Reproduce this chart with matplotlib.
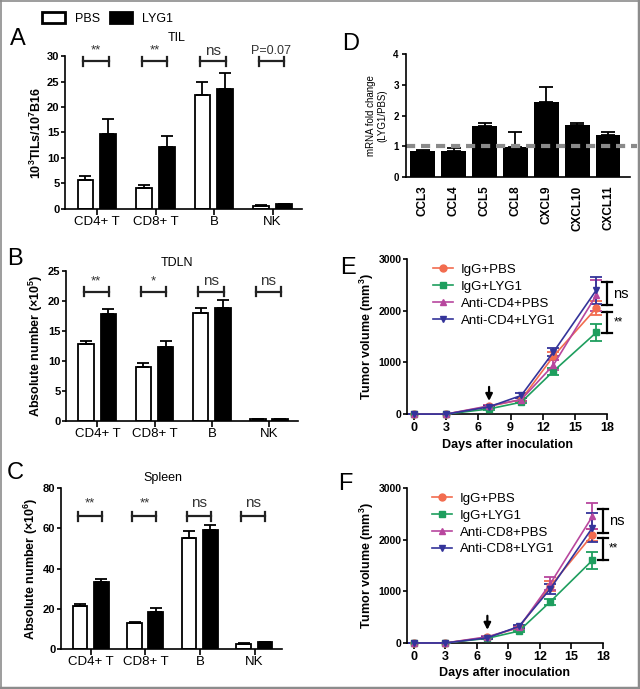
import matplotlib
matplotlib.use('Agg')
import matplotlib.pyplot as plt
import numpy as np
from matplotlib.patches import Patch
from matplotlib.lines import Line2D

plt.rcParams['font.family'] = ['Liberation Sans', 'DejaVu Sans']
plt.rcParams['mathtext.fontset'] = 'custom'
plt.rcParams['mathtext.rm'] = 'Liberation Sans'
plt.rcParams['mathtext.bf'] = 'Liberation Sans:bold'
plt.rcParams['axes.linewidth'] = 1.2
plt.rcParams['xtick.major.width'] = 1.2
plt.rcParams['ytick.major.width'] = 1.2

# ---- data ----
cells = ['CD4+ T', 'CD8+ T', 'B', 'NK']

til_pbs = [5.7, 4.2, 22.4, 0.6]
til_pbs_err = [0.8, 0.6, 2.6, 0.15]
til_lyg1 = [14.8, 12.1, 23.6, 0.9]
til_lyg1_err = [2.8, 2.3, 3.1, 0.15]
til_sig = ['**', '**', 'ns', 'P=0.07']

tdln_pbs = [12.9, 9.0, 18.0, 0.3]
tdln_pbs_err = [0.5, 0.7, 0.8, 0.05]
tdln_lyg1 = [17.8, 12.3, 18.9, 0.3]
tdln_lyg1_err = [0.9, 1.0, 1.2, 0.05]
tdln_sig = ['**', '*', 'ns', 'ns']

spl_pbs = [21.5, 12.8, 55.0, 2.5]
spl_pbs_err = [0.8, 0.4, 3.5, 0.3]
spl_lyg1 = [33.3, 18.5, 59.3, 3.3]
spl_lyg1_err = [1.7, 1.7, 2.2, 0.3]
spl_sig = ['**', '**', 'ns', 'ns']

chemokines = ['CCL3', 'CCL4', 'CCL5', 'CCL8', 'CXCL9', 'CXCL10', 'CXCL11']
fold = [0.85, 0.85, 1.65, 0.97, 2.43, 1.70, 1.38]
fold_err = [0.02, 0.08, 0.10, 0.50, 0.50, 0.05, 0.07]

days = [0, 3, 7, 10, 13, 17]
e_labels = ['IgG+PBS', 'IgG+LYG1', 'Anti-CD4+PBS', 'Anti-CD4+LYG1']
e_vals = [[0, 0, 150, 280, 1120, 2050],
          [0, 0, 100, 230, 830, 1580],
          [0, 0, 160, 280, 950, 2300],
          [0, 0, 140, 360, 1200, 2400]]
e_errs = [[5, 5, 20, 30, 80, 130],
          [5, 5, 15, 25, 70, 170],
          [5, 5, 20, 30, 100, 300],
          [5, 5, 20, 40, 80, 260]]
f_labels = ['IgG+PBS', 'IgG+LYG1', 'Anti-CD8+PBS', 'Anti-CD8+LYG1']
f_vals = [[0, 0, 110, 300, 1100, 2090],
          [0, 0, 90, 230, 800, 1600],
          [0, 0, 120, 300, 1150, 2450],
          [0, 0, 100, 320, 1050, 2230]]
f_errs = [[5, 5, 15, 30, 100, 110],
          [5, 5, 15, 25, 60, 170],
          [5, 5, 20, 30, 120, 250],
          [5, 5, 15, 30, 100, 280]]
e_brackets = [(2110, 2550, 'ns'), (1570, 1970, '**')]
f_brackets = [(2130, 2590, 'ns'), (1610, 2030, '**')]

line_colors = ['#F26C4F', '#1E9E5E', '#B8479E', '#34349A']
line_markers = ['o', 's', '^', 'v']

fig = plt.figure(figsize=(6.4, 6.89), dpi=100)


def bar_panel(rect, pbs, pbs_err, lyg, lyg_err, sig, ylim, yticks, ylabel,
              title, title_pos, br_y, br_h, txt_y):
    ax = fig.add_axes(rect)
    x = np.arange(len(cells))
    w = 0.27
    ax.bar(x - 0.2, pbs, w, color='white', edgecolor='black', lw=1.3,
           yerr=[np.zeros(4), pbs_err], capsize=4,
           error_kw=dict(lw=1.3, capthick=1.3))
    ax.bar(x + 0.19, lyg, w, color='black', edgecolor='black', lw=1.3,
           yerr=[np.zeros(4), lyg_err], capsize=4,
           error_kw=dict(lw=1.3, capthick=1.3))
    for i, s in enumerate(sig):
        x0, x1 = i - 0.24, i + 0.2
        ax.plot([x0, x1], [br_y, br_y], color='#222222', lw=1.6, clip_on=False)
        for xx in (x0, x1):
            ax.plot([xx, xx], [br_y - br_h, br_y + br_h], color='#222222',
                    lw=1.6, clip_on=False)
        fs = 11 if s == 'ns' else (9 if s.startswith('P') else 9.5)
        ax.text(i - 0.02, txt_y, s, ha='center', va='center', fontsize=fs,
                color='#333333', clip_on=False)
    ax.set_xlim(-0.55, 3.5)
    ax.set_ylim(*ylim)
    ax.set_yticks(yticks)
    ax.set_xticks(x)
    ax.set_xticklabels(cells, fontsize=9.5)
    for lab in ax.get_yticklabels():
        lab.set_fontweight('bold')
        lab.set_fontsize(8)
    ax.tick_params(axis='y', length=3, pad=1)
    ax.tick_params(axis='x', length=4, pad=1)
    ax.spines['top'].set_visible(False)
    ax.spines['right'].set_visible(False)
    ax.set_ylabel(ylabel, fontsize=9, fontweight='bold', labelpad=2)
    ax.text(title_pos[0], title_pos[1], title, transform=ax.transAxes,
            ha='center', va='center', fontsize=9)
    return ax


bar_panel([0.1016, 0.6967, 0.370, 0.222], til_pbs, til_pbs_err, til_lyg1,
          til_lyg1_err, til_sig, (0, 30), range(0, 31, 5),
          r'10$^{\mathbf{3}}$TILs/10$^{\mathbf{7}}$B16', 'TIL', (0.47, 1.118),
          29.0, 0.9, 31.0)
bar_panel([0.1031, 0.389, 0.3625, 0.2177], tdln_pbs, tdln_pbs_err, tdln_lyg1,
          tdln_lyg1_err, tdln_sig, (0, 25), range(0, 26, 5),
          r'Absolute number (×10$^{\mathbf{5}}$)', 'TDLN', (0.48, 1.053),
          21.5, 0.75, 23.3)
bar_panel([0.0953, 0.058, 0.345, 0.2337], spl_pbs, spl_pbs_err, spl_lyg1,
          spl_lyg1_err, spl_sig, (0, 80), range(0, 81, 20),
          r'Absolute number (×10$^{\mathbf{6}}$)', 'Spleen', (0.46, 1.062),
          66.0, 2.2, 72.5)

# legend for A-C
fig.legend(handles=[Patch(facecolor='white', edgecolor='black', lw=2),
                    Patch(facecolor='black', edgecolor='black', lw=2)],
           labels=['PBS', 'LYG1'], ncol=2, frameon=False, fontsize=9,
           loc='upper left', bbox_to_anchor=(42 / 640, 1 - 12 / 689),
           borderpad=0, borderaxespad=0, handlelength=1.8, handleheight=1.0,
           handletextpad=0.8, columnspacing=0.8)

# panel D
axd = fig.add_axes([0.634, 0.743, 0.35, 0.1785])
xd = np.arange(len(chemokines))
axd.bar(xd, fold, 0.8, color='black', yerr=[np.zeros(len(fold)), fold_err],
        capsize=5, error_kw=dict(lw=1.3, capthick=1.3))
axd.plot([-0.55, 6.95], [1, 1], ls=(0, (2.2, 1.4)), color='#8a8a8a', lw=3,
         clip_on=False)
axd.set_xlim(-0.55, 6.7)
axd.set_ylim(0, 4)
axd.set_yticks(range(5))
axd.set_xticks(xd)
axd.set_xticklabels(chemokines, rotation=90, fontsize=8.5, fontweight='bold')
for lab in axd.get_yticklabels():
    lab.set_fontweight('bold')
    lab.set_fontsize(7)
axd.tick_params(length=3, pad=2)
axd.tick_params(axis='x', length=0, pad=6)
axd.spines['top'].set_visible(False)
axd.spines['right'].set_visible(False)
axd.set_ylabel('mRNA fold change\n(LYG1/PBS)', fontsize=7, labelpad=4)


def growth_panel(rect, labels, vals, errs, brackets):
    ax = fig.add_axes(rect)
    handles = []
    for lab, v, e, c, m in zip(labels, vals, errs, line_colors, line_markers):
        ax.errorbar(days, v, yerr=e, color=c, marker=m, ms=5, lw=1.2,
                    capsize=4, capthick=1.3, elinewidth=1.3,
                    clip_on=False, zorder=3)
        handles.append(Line2D([], [], color=c, marker=m, ms=5, lw=1.2,
                              label=lab))
    for lo, hi, s in brackets:
        ax.plot([18.0, 18.0], [lo, hi], color='black', lw=1.6, clip_on=False)
        for yy in (lo, hi):
            ax.plot([17.55, 18.45], [yy, yy], color='black', lw=1.6,
                    clip_on=False)
        ax.text(18.6, (lo + hi) / 2, s, fontsize=10.5 if s == 'ns' else 8.5,
                va='center', ha='left', clip_on=False)
    ax.annotate('', xy=(7, 200), xytext=(7, 580),
                arrowprops=dict(arrowstyle='-|>', color='black', lw=1.6,
                                mutation_scale=10))
    ax.set_xlim(-0.65, 18)
    ax.set_ylim(0, 3000)
    ax.set_xticks(range(0, 19, 3))
    ax.set_yticks([0, 1000, 2000, 3000])
    for lab in ax.get_xticklabels():
        lab.set_fontweight('bold')
        lab.set_fontsize(9)
    for lab in ax.get_yticklabels():
        lab.set_fontweight('bold')
        lab.set_fontsize(7.5)
    ax.tick_params(axis='y', length=3, pad=1)
    ax.tick_params(axis='x', length=4, pad=2)
    ax.spines['top'].set_visible(False)
    ax.spines['right'].set_visible(False)
    ax.set_xlabel('Days after inoculation', fontsize=9, fontweight='bold',
                  labelpad=3)
    ax.set_ylabel(r'Tumor volume (mm$^{\mathbf{3}}$)', fontsize=9,
                  fontweight='bold', labelpad=2)
    ax.legend(handles=handles, loc='upper left', bbox_to_anchor=(0.13, 0.97),
              frameon=False, fontsize=9.5, borderpad=0, borderaxespad=0,
              handlelength=1.5, handletextpad=0.6, labelspacing=0.35)
    return ax


growth_panel([0.636, 0.399, 0.3125, 0.225], e_labels, e_vals, e_errs,
             e_brackets)
growth_panel([0.636, 0.0668, 0.306, 0.225], f_labels, f_vals, f_errs,
             f_brackets)

# panel letters
for letter, px, py in [('A', 10, 28), ('B', 7, 248), ('C', 7, 462),
                       ('D', 342, 33), ('E', 340, 257), ('F', 338, 473)]:
    fig.text(px / 640, 1 - py / 689, letter, fontsize=17, ha='left', va='top')

# gray frame
gray = '#8c8c8c'
fig.add_artist(Line2D([0.5 / 640, 0.5 / 640], [0, 1], color=gray, lw=1.2))
fig.add_artist(Line2D([0, 1], [1 - 0.5 / 689, 1 - 0.5 / 689], color=gray, lw=1.2))
fig.add_artist(Line2D([638.5 / 640, 638.5 / 640], [0, 1], color=gray, lw=2.5))
fig.add_artist(Line2D([0, 1], [1.5 / 689, 1.5 / 689], color=gray, lw=2.5))

fig.savefig('out.png', dpi=100)
